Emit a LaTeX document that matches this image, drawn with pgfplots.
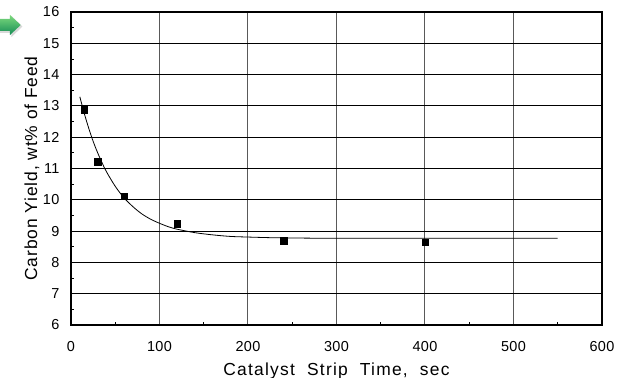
\documentclass[border=0pt]{standalone}
\usepackage{fontspec}
\setmainfont{Liberation Sans}
\newfontfamily\lblfont[LetterSpace=5]{Liberation Sans}
\newfontfamily\xlblfont[LetterSpace=7]{Liberation Sans}
\newfontfamily\tickfont[LetterSpace=3]{Liberation Sans}
\usepackage{pgfplots}
\pgfplotsset{compat=1.18}
\definecolor{arrowtop}{RGB}{125,218,125}
\definecolor{arrowbot}{RGB}{20,140,85}
\begin{document}
\begin{tikzpicture}
\useasboundingbox (-71bp,-53bp) rectangle (555bp,325bp);
% decorative arrow (cut off at the left edge)
\fill[black!25,opacity=0.6] (-79bp,305bp) -- (-59.5bp,305bp) -- (-59.5bp,309bp) -- (-48.5bp,298.5bp) -- (-59.5bp,288bp) -- (-59.5bp,292bp) -- (-79bp,292bp) -- cycle;
\shade[top color=arrowtop,bottom color=arrowbot] (-80bp,306bp) -- (-61bp,306bp) -- (-61bp,310bp) -- (-50.3bp,300bp) -- (-61bp,290bp) -- (-61bp,294bp) -- (-80bp,294bp) -- cycle;
\begin{axis}[
  at={(0,0)}, anchor=south west,
  scale only axis, width=531bp, height=313bp,
  xmin=0, xmax=600, ymin=6, ymax=16,
  xtick={0,100,...,600}, ytick={6,7,...,16},
  minor x tick num=1, minor y tick num=1,
  tick pos=left, tick align=inside,
  major tick length=0pt, minor tick length=3.5bp,
  every tick/.style={black, line width=0.8bp},
  grid=major,
  x grid style={line width=1bp, black!65},
  y grid style={line width=1bp, black},
  axis line style={line width=1.5bp, black},
  /pgf/number format/assume math mode=true,
  tick label style={font=\tickfont\fontsize{14.5}{16}\selectfont},
  xticklabel style={yshift=-13bp},
  yticklabel style={xshift=-8bp},
  xlabel={Catalyst\hspace{0.35em} Strip\hspace{0.35em} Time,\hspace{0.35em} sec},
  ylabel={Carbon Yield, wt\% of Feed},
  every axis x label/.style={at={(axis description cs:0.5,-0.16)}, anchor=base, font=\xlblfont\fontsize{17.5}{20}\selectfont},
  every axis y label/.style={at={(axis description cs:-0.064,0.5)}, anchor=base, rotate=90, font=\lblfont\fontsize{17.5}{20}\selectfont},
  clip=false,
]
\addplot[black, line width=0.8bp, smooth, no marks] coordinates {
  (10,13.29) (15,12.76) (20,12.29) (25,11.87) (30,11.51) (35,11.19)
  (40,10.90) (50,10.43) (60,10.06) (70,9.78) (80,9.55) (90,9.38)
  (100,9.25) (110,9.14) (120,9.06) (140,8.95) (160,8.88) (180,8.83)
  (200,8.81) (225,8.79) (250,8.78) (300,8.77) (400,8.77) (550,8.77)
};
\addplot[only marks, mark=square*, mark size=3.3bp, black] coordinates {
  (15,12.88) (30,11.22) (60,10.12) (120,9.23) (240,8.69) (400,8.65)
};
\end{axis}
\end{tikzpicture}
\end{document}
